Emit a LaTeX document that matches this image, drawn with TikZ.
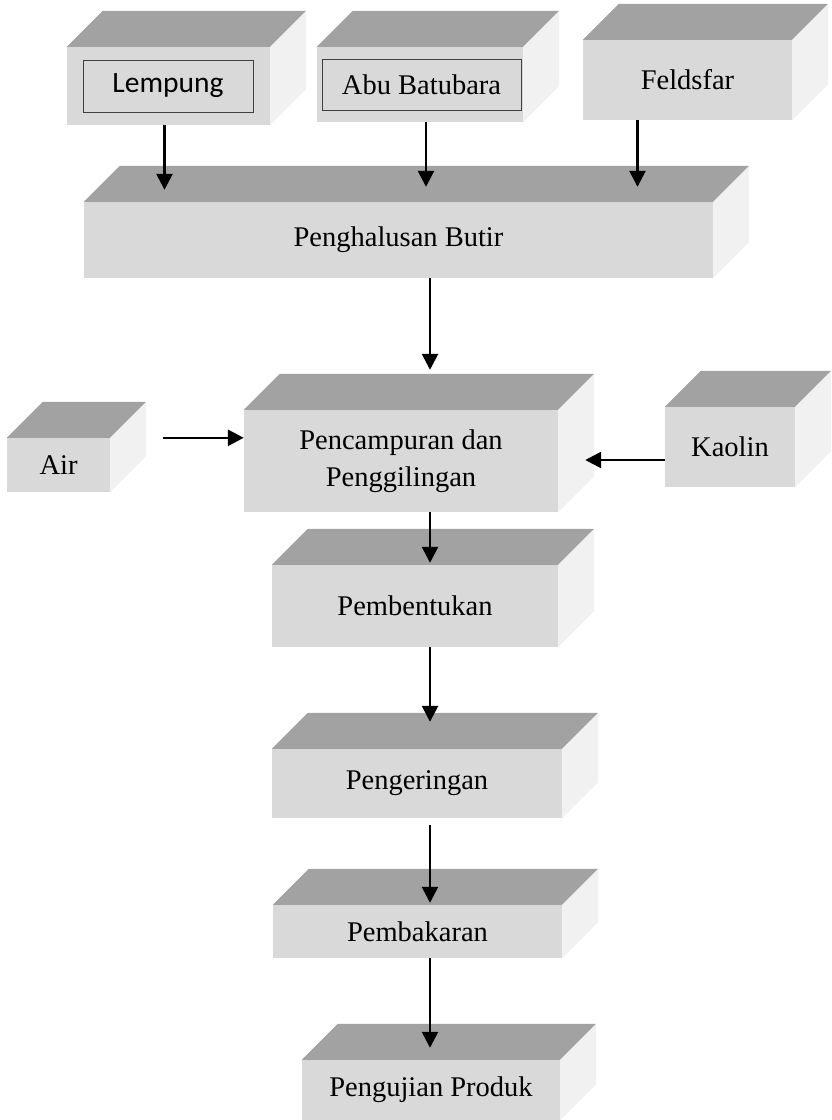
\documentclass[tikz,border=0pt]{standalone}
\usepackage{fontspec}
\setmainfont{Liberation Serif}
\newfontfamily\calibri{Carlito}
\usetikzlibrary{arrows.meta}
\definecolor{depan}{HTML}{D9D9D9}
\definecolor{atas}{HTML}{A2A2A2}
\definecolor{samping}{HTML}{F1F1F1}

\begin{document}
\begin{tikzpicture}[x=1pt, y=-1pt,
  every node/.style={font=\fontsize{28.5}{37}\selectfont},
  kotak/.style={fill=depan, inner sep=0pt, align=center},
  panah/.style={line width=2.6pt, -{Triangle[width=16pt,length=16pt]}}]
  \useasboundingbox (0,0) rectangle (831,1120);

  % bahan baku
  \node[kotak, minimum width=203pt, minimum height=78pt] (lempung) at (168.5,86) {};
  \node[kotak, draw=black!75, line width=0.9pt, minimum width=170pt, minimum height=52pt,
        font=\calibri\fontsize{29.5}{35}\selectfont] (lempungteks) at (168,86) {Lempung};
  \node[kotak, minimum width=206pt, minimum height=75pt] (abu) at (420,84.5) {};
  \node[kotak, draw=black!75, line width=0.9pt, minimum width=199pt, minimum height=51pt] (abuteks) at (421.5,84.5) {Abu Batubara};
  \node[kotak, minimum width=209pt, minimum height=80pt] (feldsfar) at (687.5,80) {Feldsfar};

  % proses
  \node[kotak, minimum width=629pt, minimum height=76pt] (halus) at (398.5,240) {Penghalusan Butir};
  \node[kotak, minimum width=103pt, minimum height=54pt] (air) at (58.5,465) {Air};
  \node[kotak, minimum width=314pt, minimum height=102pt] (campur) at (401,461) {Pencampuran dan\\Penggilingan};
  \node[kotak, minimum width=130pt, minimum height=80pt] (kaolin) at (730,447) {Kaolin};
  \node[kotak, minimum width=286pt, minimum height=82pt] (bentuk) at (415,606) {Pembentukan};
  \node[kotak, minimum width=290pt, minimum height=69pt] (kering) at (417,783.5) {Pengeringan};
  \node[kotak, minimum width=289pt, minimum height=53pt] (bakar) at (417.5,931.5) {Pembakaran};
  \node[kotak, minimum width=258pt, minimum height=60pt] (uji) at (431,1090) {Pengujian Produk};

  % sisi atas dan samping
  \foreach \n in {lempung,abu,feldsfar,halus,air,campur,kaolin,bentuk,kering,bakar,uji}{
    \fill[atas] (\n.north west) -- ([xshift=36pt,yshift=36pt]\n.north west)
      -- ([xshift=36pt,yshift=36pt]\n.north east) -- (\n.north east) -- cycle;
    \fill[samping] (\n.north east) -- ([xshift=36pt,yshift=36pt]\n.north east)
      -- ([xshift=36pt,yshift=36pt]\n.south east) -- (\n.south east) -- cycle;
  }

  % panah
  \coordinate (tengah) at (430,0);
  \draw[panah, shorten >=12pt] ([xshift=-4pt]lempung.south) -- ([xshift=-4pt]lempung.south |- halus.north);
  \draw[panah, shorten >=15pt] ([xshift=6pt]abu.south) -- ([xshift=6pt]abu.south |- halus.north);
  \draw[panah, shorten >=15pt] ([xshift=-50pt]feldsfar.south) -- ([xshift=-50pt]feldsfar.south |- halus.north);
  \draw[panah, shorten >=40pt] (halus.south -| tengah) -- (campur.north -| tengah);
  \draw[panah, shorten <=53pt] (air.north east) -- (air.north east -| campur.west);
  \draw[panah, shorten >=27pt] ([yshift=-13pt]kaolin.west) -- ([yshift=-13pt]kaolin.west -| campur.east);
  \draw[panah, shorten >=2pt] (campur.south -| tengah) -- (bentuk.north -| tengah);
  \draw[panah, shorten >=27pt] (bentuk.south -| tengah) -- (kering.north -| tengah);
  \draw[panah, shorten <=7pt, shorten >=2pt] (kering.south -| tengah) -- (bakar.north -| tengah);
  \draw[panah, shorten >=12pt] (bakar.south -| tengah) -- (uji.north -| tengah);
\end{tikzpicture}
\end{document}
